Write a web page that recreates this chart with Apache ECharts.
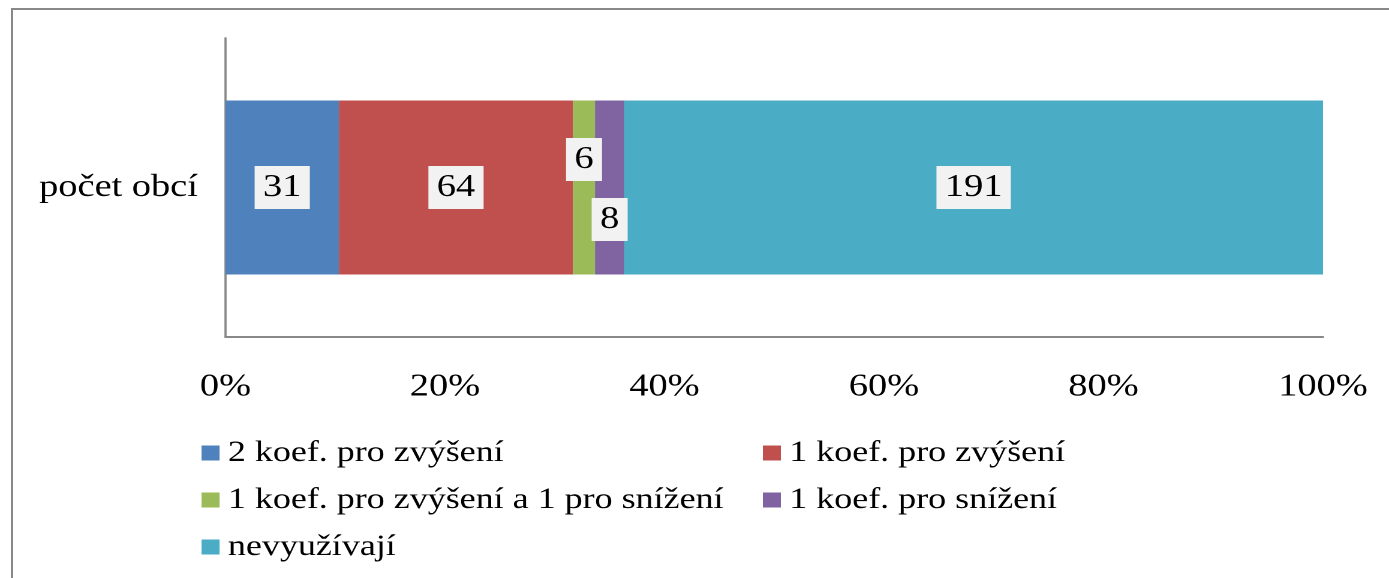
<!DOCTYPE html>
<html>
<head>
<meta charset="utf-8">
<script src="https://cdn.jsdelivr.net/npm/echarts@6/dist/echarts.min.js"></script>
<style>
html,body{margin:0;padding:0;background:#fff;overflow:hidden;}
#wrap{width:1389px;height:578px;overflow:hidden;position:relative;}
#c{width:1158px;height:578px;transform:scaleX(1.19948);transform-origin:0 0;}
</style>
</head>
<body>
<div id="wrap"><div id="c"></div></div>
<script>
const categories = ['počet obcí'];
const seriesNames = ['2 koef. pro zvýšení', '1 koef. pro zvýšení', '1 koef. pro zvýšení a 1 pro snížení', '1 koef. pro snížení', 'nevyužívají'];
const values = [31, 64, 6, 8, 191];
const colors = ['#4f81bd', '#c0504d', '#9bbb59', '#8064a2', '#4bacc6'];
const tickLabels = ['0%', '20%', '40%', '60%', '80%', '100%'];
const labelOffsets = [[0, 0], [0, 0], [0, -28], [0, 32], [0, 0]];

const total = values.reduce((a, b) => a + b, 0);
const FONT = '"Liberation Serif", "Times New Roman", serif';

const chart = echarts.init(document.getElementById('c'), null, { devicePixelRatio: 2 });

const series = seriesNames.map((name, i) => ({
  name: name,
  type: 'bar',
  stack: 'all',
  barWidth: 174,
  itemStyle: { color: colors[i] },
  label: {
    show: true,
    position: 'inside',
    offset: labelOffsets[i],
    formatter: () => String(values[i]),
    fontFamily: FONT,
    fontSize: 32,
    lineHeight: 32,
    color: '#000',
    backgroundColor: '#f2f2f2',
    padding: [6, 7, 5, 7]
  },
  data: [values[i] / total * 100]
}));

const legendPos = [
  { left: 168, top: 438 },
  { left: 636, top: 438 },
  { left: 168, top: 485 },
  { left: 636, top: 485 },
  { left: 168, top: 532 }
];

const legends = seriesNames.map((name, i) => ({
  data: [name],
  left: legendPos[i].left,
  top: legendPos[i].top,
  orient: 'horizontal',
  icon: 'rect',
  itemWidth: 15,
  itemHeight: 15,
  selectedMode: false,
  padding: 0,
  textStyle: {
    fontFamily: FONT,
    fontSize: 30,
    color: '#000',
    padding: [0, 0, 0, 2]
  }
}));

chart.setOption({
  animation: false,
  backgroundColor: '#fff',
  grid: { left: 188, right: 55, top: 38, bottom: 241 },
  xAxis: {
    type: 'value',
    min: 0,
    max: 100,
    interval: 20,
    axisLine: { show: true, lineStyle: { color: '#888', width: 2 } },
    axisTick: { show: false },
    splitLine: { show: false },
    axisLabel: {
      margin: 34,
      fontFamily: FONT,
      fontSize: 32,
      color: '#000',
      formatter: (v) => tickLabels[Math.round(v / 20)]
    }
  },
  yAxis: {
    type: 'category',
    data: categories,
    axisLine: { show: true, lineStyle: { color: '#888', width: 1.8 } },
    axisTick: { show: false },
    axisLabel: {
      margin: 23,
      fontFamily: FONT,
      fontSize: 32,
      color: '#000'
    }
  },
  legend: legends,
  graphic: [{
    type: 'rect',
    shape: { x: 10, y: 9, width: 1300, height: 600 },
    style: { fill: 'none', stroke: '#888', lineWidth: 2 },
    silent: true,
    z: -1
  }],
  series: series
});
</script>
</body>
</html>
